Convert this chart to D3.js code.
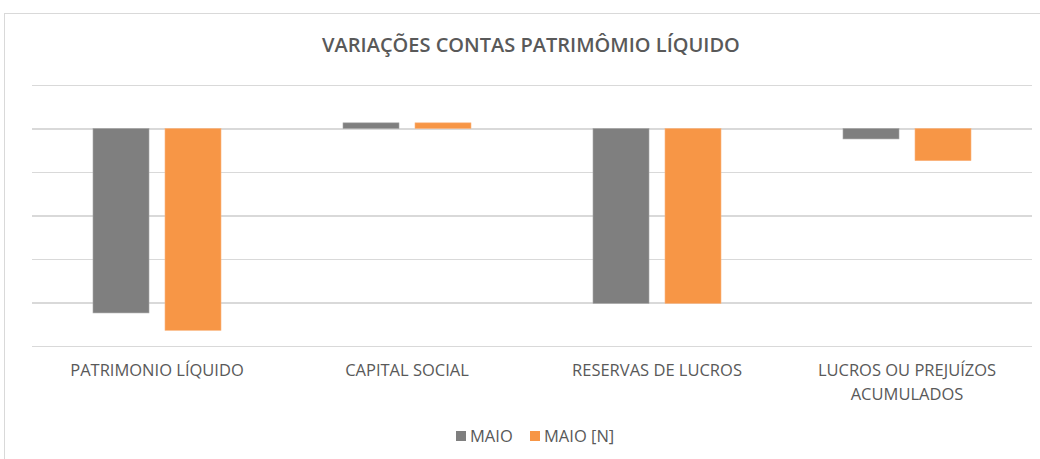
<!DOCTYPE html>
<html>
<head>
<meta charset="utf-8">
<script src="https://cdn.jsdelivr.net/npm/d3@7"></script>
<style>
  html, body { margin: 0; padding: 0; background: #fff; }
  svg { display: block; font-family: "Open Sans", "Noto Sans", sans-serif; }
  .cat-lbl { font-size: 16.5px; fill: #595959; }
  .legend-lbl { font-size: 16.5px; fill: #595959; }
  .title { font-size: 20px; font-weight: 600; fill: #595959; }
</style>
</head>
<body>
<svg id="chart"></svg>
<script>
// ── Data ──────────────────────────────────────────────────────────────────────
const CATEGORIES = [
  ["PATRIMONIO LÍQUIDO"],
  ["CAPITAL SOCIAL"],
  ["RESERVAS DE LUCROS"],
  ["LUCROS OU PREJUÍZOS", "ACUMULADOS"]
];
const SERIES = ["MAIO", "MAIO [N]"];
const MAIO   = [-42.4, 1.3, -40.2, -2.4];
const MAIO_N = [-46.4, 1.3, -40.2, -7.4];
const Y_TICKS = [-50, -40, -30, -20, -10, 0, 10];

const COLORS = { "MAIO": "#7f7f7f", "MAIO [N]": "#f79646" };

// ── Layout ────────────────────────────────────────────────────────────────────
const VW = 1040, VH = 459;
const M  = { top: 85, right: 8, bottom: 113, left: 32 };
const W  = VW - M.left - M.right;
const H  = VH - M.top - M.bottom;

const svg = d3.select("#chart").attr("width", VW).attr("height", VH);

// chart frame
svg.append("rect")
  .attr("x", 4.5).attr("y", 13.5)
  .attr("width", 1100).attr("height", 600)
  .attr("fill", "#fff").attr("stroke", "#d9d9d9");

svg.append("text").attr("class", "title")
  .attr("x", 531).attr("y", 52)
  .attr("text-anchor", "middle")
  .text("VARIAÇÕES CONTAS PATRIMÔMIO LÍQUIDO");

const g = svg.append("g").attr("transform", `translate(${M.left},${M.top})`);

const x = d3.scaleBand().domain(d3.range(CATEGORIES.length)).range([0, W]);
const xs = d3.scaleBand().domain(SERIES);
const y = d3.scaleLinear().domain([d3.min(Y_TICKS), d3.max(Y_TICKS)]).range([H, 0]);

// gridlines
g.append("g")
  .call(d3.axisLeft(y).tickValues(Y_TICKS).tickSize(-W).tickFormat(""))
  .call(ax => ax.select(".domain").remove())
  .selectAll("line")
  .attr("stroke", "#d9d9d9").attr("stroke-width", 1.3)
  .attr("shape-rendering", "crispEdges");

// bars (two 56px bars, 16px apart, centred in each band)
const barW = 56, gap = 16;
xs.range([x.bandwidth() / 2 - barW - gap / 2, x.bandwidth() / 2 + barW + gap / 2])
  .paddingInner(gap / (barW + gap));

const rows = [MAIO, MAIO_N];
SERIES.forEach((s, si) => {
  g.append("g").selectAll("rect")
    .data(rows[si])
    .join("rect")
    .attr("x", (d, i) => x(i) + xs(s))
    .attr("width", xs.bandwidth())
    .attr("y", d => y(Math.max(0, d)))
    .attr("height", d => Math.abs(y(d) - y(0)))
    .attr("fill", COLORS[s])
    .attr("stroke", si === 0 ? "#a6a6a6" : "#fab47e")
    .attr("stroke-width", 0.6);
});

// category labels
const catG = g.append("g").attr("transform", `translate(0,${H})`);
CATEGORIES.forEach((lines, i) => {
  const t = catG.append("text").attr("class", "cat-lbl")
    .attr("x", x(i) + x.bandwidth() / 2)
    .attr("y", 30)
    .attr("text-anchor", "middle");
  lines.forEach((ln, j) => {
    t.append("tspan").attr("x", x(i) + x.bandwidth() / 2)
      .attr("dy", j === 0 ? 0 : 24).text(ln);
  });
});

// legend
const legG = svg.append("g").attr("transform", `translate(456, 431)`);
const legX = [0, 74];
SERIES.forEach((s, i) => {
  const row = legG.append("g").attr("transform", `translate(${legX[i]},0)`);
  row.append("rect").attr("width", 10).attr("height", 10).attr("fill", COLORS[s]);
  row.append("text").attr("class", "legend-lbl").attr("x", 14).attr("y", 11).text(s);
});
</script>
</body>
</html>
